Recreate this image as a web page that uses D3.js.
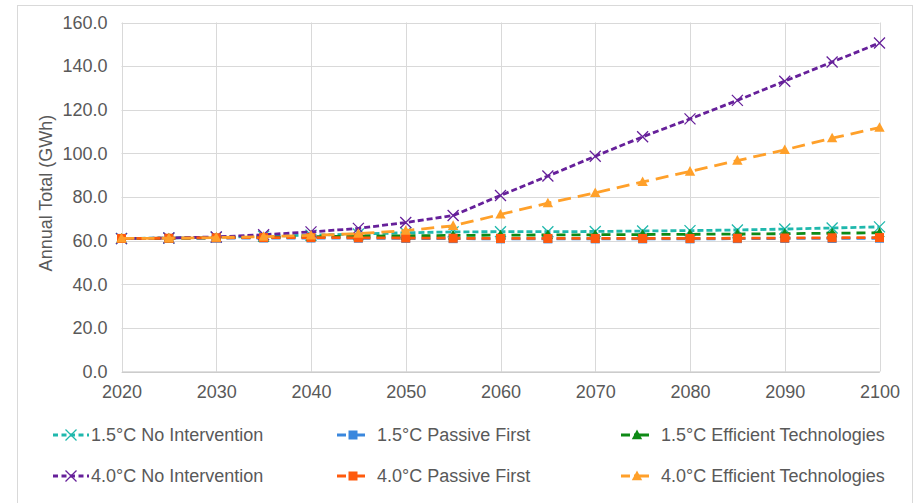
<!DOCTYPE html>
<html>
<head>
<meta charset="utf-8">
<script src="https://cdn.jsdelivr.net/npm/d3@7"></script>
<style>
html,body{margin:0;padding:0;background:#fff;}
svg{display:block;font-family:"Liberation Sans",Arial,sans-serif;}
</style>
</head>
<body>
<svg id="chart" width="915" height="503"></svg>
<script>
const years = [2020,2025,2030,2035,2040,2045,2050,2055,2060,2065,2070,2075,2080,2085,2090,2095,2100];
const xTicks = [2020,2030,2040,2050,2060,2070,2080,2090,2100];
const yTicks = [0,20,40,60,80,100,120,140,160];
const seriesNames = ["1.5°C No Intervention","1.5°C Passive First","1.5°C Efficient Technologies","4.0°C No Intervention","4.0°C Passive First","4.0°C Efficient Technologies"];
const noInt15   = [61.0,61.2,61.6,62.0,62.5,63.0,63.6,64.0,64.1,64.1,64.2,64.4,64.6,64.9,65.3,65.8,66.3];
const passive15 = [61.0,61.0,61.1,61.2,61.2,61.1,61.0,60.9,60.8,60.8,60.8,60.8,60.8,60.9,61.0,61.0,61.1];
const eff15     = [61.0,61.1,61.3,61.5,61.8,62.0,62.2,62.4,62.5,62.6,62.7,62.8,62.9,63.0,63.2,63.4,63.6];
const noInt40   = [60.9,61.2,61.7,62.7,64.0,65.6,68.3,71.5,80.7,89.6,98.7,107.6,115.8,124.3,133.1,141.9,150.6];
const passive40 = [61.0,61.1,61.3,61.4,61.4,61.3,61.2,61.1,61.0,61.0,61.0,61.0,61.0,61.1,61.2,61.3,61.4];
const eff40     = [61.0,61.1,61.4,61.8,62.4,63.2,64.6,66.8,72.0,77.2,81.9,86.9,91.7,96.7,101.6,107.0,111.8];
const seriesValues = [noInt15,passive15,eff15,noInt40,passive40,eff40];

const styles = [
  {color:"#1FB8AD", dash:"6,3", marker:"x"},
  {color:"#3A87DD", dash:"9,6", marker:"square"},
  {color:"#0E8A16", dash:"9,6", marker:"triangle"},
  {color:"#66209A", dash:"6,3", marker:"x"},
  {color:"#FF5A0D", dash:"9,6", marker:"square"},
  {color:"#FFA02A", dash:"13,7", marker:"triangle"}
];

const svg = d3.select("#chart");
const textColor = "#595959";
const gridColor = "#D9D9D9";

// outer border
svg.append("rect").attr("x",17.5).attr("y",5.5).attr("width",895).attr("height",510)
  .attr("fill","#fff").attr("stroke",gridColor).attr("stroke-width",1);

const x = d3.scaleLinear().domain([2020,2100]).range([121.5,879.5]);
const y = d3.scaleLinear().domain([0,160]).range([371.5,22.5]);

// gridlines
const grid = svg.append("g");
grid.selectAll(".hg").data(yTicks).join("line")
  .attr("x1",x(2020)).attr("x2",x(2100))
  .attr("y1",d=>Math.round(y(d))+0.5).attr("y2",d=>Math.round(y(d))+0.5)
  .attr("stroke",gridColor).attr("stroke-width",1);
grid.selectAll(".vg").data(xTicks).join("line")
  .attr("y1",y(0)).attr("y2",y(160))
  .attr("x1",d=>Math.round(x(d))+0.5).attr("x2",d=>Math.round(x(d))+0.5)
  .attr("stroke",gridColor).attr("stroke-width",1);

// axes
const yAxis = d3.axisLeft(y).tickValues(yTicks).tickFormat(d3.format(".1f")).tickSize(0).tickPadding(14);
const gy = svg.append("g").attr("transform",`translate(${x(2020)},0)`).call(yAxis);
gy.select(".domain").remove();
gy.selectAll("text").attr("fill",textColor).style("font-size","18px").style("font-family","'Liberation Sans',Arial,sans-serif");

const xAxis = d3.axisBottom(x).tickValues(xTicks).tickFormat(d3.format("d")).tickSize(0).tickPadding(14);
const gx = svg.append("g").attr("transform",`translate(0,${y(0)})`).call(xAxis);
gx.select(".domain").attr("stroke","#BFBFBF");
gx.selectAll("text").attr("fill",textColor).style("font-size","18px").style("font-family","'Liberation Sans',Arial,sans-serif");

// y axis title
svg.append("text").attr("transform","translate(52,193) rotate(-90)")
  .attr("text-anchor","middle").attr("fill",textColor).style("font-size","18px")
  .text("Annual Total (GWh)");

function drawMarker(g, type, cx, cy, color, scale){
  scale = scale || 1;
  if(type==="x"){
    const s = 5.5*scale;
    g.append("path").attr("d",`M${cx-s},${cy-s}L${cx+s},${cy+s}M${cx-s},${cy+s}L${cx+s},${cy-s}`)
      .attr("stroke",color).attr("stroke-width",1.3).attr("fill","none");
  } else if(type==="square"){
    const s = 4.5*scale;
    g.append("rect").attr("x",cx-s).attr("y",cy-s).attr("width",2*s).attr("height",2*s).attr("fill",color);
  } else {
    const s = 5.2*scale;
    g.append("path").attr("d",`M${cx},${cy-s*1.05}L${cx+s},${cy+s*0.8}L${cx-s},${cy+s*0.8}Z`).attr("fill",color);
  }
}

const line = d3.line().x((d,i)=>x(years[i])).y(d=>y(d));
const plot = svg.append("g");
seriesValues.forEach((vals,k)=>{
  const st = styles[k];
  const g = plot.append("g");
  g.append("path").datum(vals).attr("d",line).attr("fill","none")
    .attr("stroke",st.color).attr("stroke-width",2.8).attr("stroke-dasharray",st.dash);
  vals.forEach((v,i)=>drawMarker(g, st.marker, x(years[i]), y(v), st.color));
});

// legend
const legendCols = [91, 377, 661];
const legendRows = [435, 476];
seriesNames.forEach((name,k)=>{
  const st = styles[k];
  const col = k%3, row = Math.floor(k/3);
  const tx = legendCols[col], ty = legendRows[row];
  const g = svg.append("g");
  if(col===0){
    g.append("line").attr("x1",tx-38).attr("x2",tx-2).attr("y1",ty).attr("y2",ty)
      .attr("stroke",st.color).attr("stroke-width",2.8).attr("stroke-dasharray","5,3.5");
    drawMarker(g, st.marker, tx-20, ty, st.color);
  } else {
    g.append("line").attr("x1",tx-40).attr("x2",tx-12).attr("y1",ty).attr("y2",ty)
      .attr("stroke",st.color).attr("stroke-width",2.8).attr("stroke-dasharray","9,4,15,40");
    drawMarker(g, st.marker, tx-24, ty, st.color);
  }
  g.append("text").attr("x",tx).attr("y",ty).attr("dy","0.35em").attr("fill",textColor)
    .style("font-size","18px").text(name);
});
</script>
</body>
</html>
